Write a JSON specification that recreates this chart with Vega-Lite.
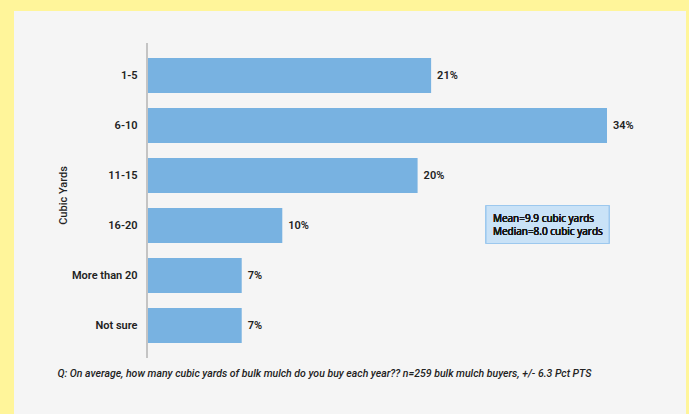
{
  "$schema": "https://vega.github.io/schema/vega-lite/v6.json",
  "autosize": {"type": "none"},
  "width": 672,
  "height": 403,
  "padding": {"left": 14, "top": 11, "right": 3, "bottom": 0},
  "background": "#FFF59A",
  "config": {
    "view": {"fill": "#F5F5F5", "stroke": null},
    "font": "Roboto"
  },
  "data": {
    "values": [
      {"cat": "1-5", "pct": 0.21},
      {"cat": "6-10", "pct": 0.34},
      {"cat": "11-15", "pct": 0.20},
      {"cat": "16-20", "pct": 0.10},
      {"cat": "More than 20", "pct": 0.07},
      {"cat": "Not sure", "pct": 0.07}
    ]
  },
  "encoding": {
    "y": {
      "field": "cat",
      "type": "nominal",
      "sort": null,
      "scale": {
        "domain": ["1-5", "6-10", "11-15", "16-20", "More than 20", "Not sure"],
        "range": [32, 347],
        "paddingInner": 0.3,
        "paddingOuter": 0.3,
        "round": false
      },
      "axis": {
        "title": "Cubic Yards",
        "offset": -133,
        "domain": false,
        "ticks": false,
        "grid": false,
        "labelPadding": 10,
        "labelFont": "Roboto",
        "labelFontSize": 11,
        "labelFontWeight": 600,
        "labelColor": "#222222",
        "titleFont": "Roboto",
        "titleFontSize": 11,
        "titleFontWeight": 500,
        "titleColor": "#222222",
        "titleX": -84,
        "titleY": 184,
        "titleAngle": 270,
        "titleBaseline": "middle",
        "titleAlign": "center"
      }
    }
  },
  "layer": [
    {
      "mark": {"type": "bar", "color": "#78B2E1"},
      "encoding": {
        "x": {
          "field": "pct",
          "type": "quantitative",
          "scale": {"domain": [-0.09831, 0.39839], "nice": false, "zero": false},
          "axis": {
            "title": "Q: On average, how many cubic yards of bulk mulch do you buy each year?? n=259 bulk mulch buyers, +/- 6.3 Pct PTS",
            "domain": false,
            "ticks": false,
            "labels": false,
            "grid": false,
            "titleFont": "Roboto",
            "titleFontSize": 10.5,
            "titleFontStyle": "italic",
            "titleFontWeight": 500,
            "titleColor": "#222222",
            "titleAnchor": "start",
            "titleAlign": "left",
            "titleX": 43,
            "titleY": -41,
            "titleBaseline": "middle"
          }
        },
        "x2": {"datum": 0}
      }
    },
    {
      "mark": {"type": "text", "align": "left", "dx": 6, "baseline": "middle", "font": "Roboto", "fontSize": 11, "fontWeight": 600, "color": "#222222"},
      "encoding": {
        "x": {"field": "pct", "type": "quantitative"},
        "text": {"field": "pct", "type": "quantitative", "format": ".0%"}
      }
    },
    {
      "mark": {"type": "rule", "color": "#C4C4C4", "strokeWidth": 1.5, "yOffset": -32.5, "y2Offset": 32.5},
      "encoding": {
        "x": {"datum": 0},
        "y": {"datum": "1-5"},
        "y2": {"datum": "Not sure"}
      }
    },
    {
      "mark": {"type": "bar", "fill": "#C9E2F7", "stroke": "#9CC8EE", "strokeWidth": 1, "height": 38, "yOffset": -1},
      "encoding": {
        "x": {"datum": 0.2506},
        "x2": {"datum": 0.3415},
        "y": {"datum": "16-20"}
      }
    },
    {
      "mark": {"type": "text", "align": "left", "baseline": "middle", "dy": -7, "font": "Open Sans", "fontSize": 10, "fontWeight": 500, "color": "#1a1a1a", "lineHeight": 13},
      "encoding": {
        "x": {"datum": 0.2557},
        "y": {"datum": "16-20"},
        "text": {"value": ["Mean=9.9 cubic yards", "Median=8.0 cubic yards"]}
      }
    }
  ]
}
